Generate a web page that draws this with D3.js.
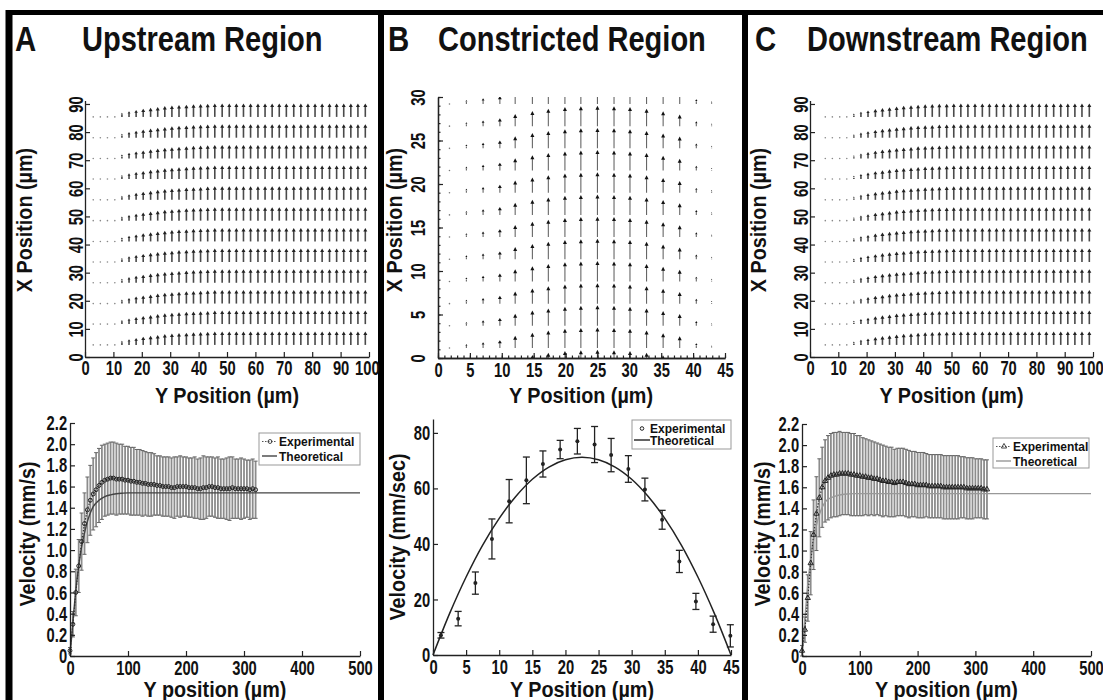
<!DOCTYPE html>
<html><head><meta charset="utf-8">
<script src="https://cdn.jsdelivr.net/npm/d3@7"></script>
<style>
body{margin:0;background:#fff;}
text{font-family:"Liberation Sans",Arial,Helvetica,sans-serif;font-weight:bold;fill:#111;}
</style></head><body><svg id="c" width="1103" height="700"></svg>
<script>
// ---------------- DATA ----------------
const panelLetters = ["A", "B", "C"];
const panelTitles = ["Upstream Region", "Constricted Region", "Downstream Region"];

// Quiver grids (A & C): row positions (X position, µm) and column positions (Y position, µm)
const quiverRowsAC = [4.3, 11.7, 19.0, 26.4, 33.8, 41.1, 48.5, 55.9, 63.3, 70.6, 78.0, 85.4];
const quiverColsAC = [2.9, 5.4, 7.9, 10.5, 13.0, 15.5, 18.0, 20.5, 23.1, 25.6, 28.1, 30.6, 33.1, 35.7, 38.2,
  40.7, 43.2, 45.7, 48.3, 50.8, 53.3, 55.8, 58.3, 60.9, 63.4, 65.9, 68.4, 70.9, 73.5, 76.0, 78.5, 81.0,
  83.5, 86.1, 88.6, 91.1, 93.6, 96.1, 98.7];
// relative arrow magnitude per column
const quiverMagA = [0.06, 0.08, 0.1, 0.14, 0.3, 0.42, 0.52, 0.6, 0.68, 0.74, 0.8, 0.84, 0.88, 0.91, 0.94, 0.96, 0.98,
  1, 1, 1, 1, 1, 1, 1, 1, 1, 1, 1, 1, 1, 1, 1, 1, 1, 1, 1, 1, 1, 1];
const quiverMagC = [0, 0.04, 0.06, 0.08, 0.12, 0.25, 0.38, 0.48, 0.58, 0.66, 0.72, 0.78, 0.82, 0.86, 0.9, 0.93, 0.95, 0.97, 0.98,
  1, 1, 1, 1, 1, 1, 1, 1, 1, 1, 1, 1, 1, 1, 1, 1, 1, 1, 1, 1];
const quiverFullLenAC = 4.8; // µm

// Quiver grid (B)
const quiverRowsB = [-1.4, 1.15, 3.7, 6.25, 8.8, 11.35, 13.9, 16.45, 19.0, 21.55, 24.1, 26.65, 29.2];
const quiverColsB = [1.8, 4.45, 7.07, 9.7, 12.1, 14.8, 17.3, 19.9, 22.4, 25.0, 27.6, 30.1, 32.7, 35.3, 37.9, 40.5, 42.9];
const quiverLenB = [0.12, 0.45, 0.65, 0.9, 1.4, 1.75, 2.0, 2.2, 2.3, 2.35, 2.3, 2.2, 2.0, 1.7, 1.35, 0.55, 0.3];

// Velocity profiles A & C (Y position µm, mean mm/s, sd mm/s)
const expX = [0,5,10,15,20,25,30,35,40,45, 50,55,60,65,70,75,80,85,90,95, 100,105,110,115,120,125,130,135,140,145,
  150,155,160,165,170,175,180,185,190,195, 200,205,210,215,220,225,230,235,240,245, 250,255,260,265,270,275,280,285,290,295,
  300,305,310,315,320];
const expA_mean = [0.05,0.3,0.6,0.85,1.08,1.25,1.38,1.47,1.53,1.57, 1.61,1.64,1.66,1.67,1.68,1.68,1.67,1.67,1.67,1.66,
  1.66,1.65,1.65,1.64,1.64,1.63,1.63,1.62,1.62,1.62, 1.61,1.61,1.6,1.6,1.6,1.59,1.59,1.6,1.6,1.6,
  1.6,1.59,1.59,1.59,1.58,1.58,1.59,1.59,1.6,1.6, 1.59,1.59,1.58,1.58,1.58,1.58,1.59,1.58,1.58,1.58,
  1.58,1.58,1.57,1.58,1.57];
const expA_sd = [0.03,0.12,0.22,0.25,0.27,0.29,0.31,0.33,0.34,0.35, 0.35,0.35,0.34,0.34,0.34,0.34,0.34,0.33,0.33,0.32,
  0.32,0.32,0.32,0.31,0.31,0.31,0.3,0.3,0.3,0.29, 0.28,0.28,0.28,0.28,0.28,0.28,0.29,0.28,0.29,0.28,
  0.28,0.28,0.28,0.29,0.28,0.29,0.3,0.29,0.28,0.28, 0.28,0.29,0.28,0.28,0.29,0.3,0.29,0.28,0.28,0.29,
  0.28,0.27,0.28,0.28,0.27];
const expC_mean = [0.05,0.25,0.55,0.88,1.15,1.35,1.5,1.6,1.66,1.69, 1.71,1.72,1.72,1.73,1.73,1.73,1.73,1.72,1.72,1.71,
  1.71,1.7,1.7,1.69,1.69,1.68,1.68,1.67,1.66,1.66, 1.65,1.65,1.64,1.65,1.65,1.65,1.64,1.63,1.63,1.63,
  1.62,1.62,1.62,1.62,1.61,1.61,1.61,1.61,1.61,1.6, 1.6,1.6,1.6,1.6,1.6,1.6,1.6,1.59,1.59,1.59,
  1.59,1.59,1.59,1.58,1.58];
const expC_sd = [0.05,0.12,0.22,0.3,0.33,0.35,0.37,0.38,0.39,0.4, 0.4,0.4,0.4,0.4,0.39,0.39,0.39,0.39,0.39,0.38,
  0.38,0.37,0.36,0.36,0.35,0.35,0.34,0.34,0.34,0.33, 0.33,0.33,0.32,0.32,0.32,0.32,0.32,0.32,0.31,0.31,
  0.31,0.31,0.31,0.3,0.3,0.3,0.3,0.3,0.3,0.3, 0.3,0.3,0.3,0.3,0.3,0.29,0.29,0.29,0.29,0.29,
  0.28,0.28,0.28,0.28,0.28];
const theoX = [0,5,10,15,20,25,30,35,40,50,60,70,80,90,100,120,500];
const theoA_y = [0,0.32,0.62,0.85,1.03,1.16,1.27,1.35,1.41,1.47,1.505,1.522,1.532,1.537,1.54,1.54,1.54];
const theoC_y = [0,0.35,0.68,0.92,1.1,1.24,1.34,1.41,1.46,1.5,1.52,1.532,1.537,1.54,1.54,1.54,1.54];

// Velocity profile B (Y position µm, mm/sec)
const expB_x = [1.2,3.8,6.4,8.9,11.5,14.1,16.6,19.2,21.8,24.4,26.9,29.5,32.0,34.6,37.2,39.7,42.3,44.9];
const expB_y = [7.1,13.1,25.9,41.8,55.4,62.9,68.8,74.0,77.0,75.8,72.0,67.0,59.6,48.7,33.7,19.3,11.1,6.9];
const expB_err = [1.0,2.6,4.0,7.2,7.8,8.4,4.7,3.3,4.6,6.5,6.0,4.8,4.1,3.4,4.0,2.9,2.9,4.0];
const theoB_x = [0,2.5,5,7.5,10,12.5,15,17.5,20,22.5,25,27.5,30,32.5,35,37.5,40,42.5,45];
const theoB_y = [0,14.9,28.1,39.6,49.2,57.1,63.3,67.7,70.3,71.2,70.3,67.7,63.3,57.1,49.2,39.6,28.1,14.9,0];

// Ticks
const qTicksAC_x = [0,10,20,30,40,50,60,70,80,90,100];
const qTicksAC_y = [0,10,20,30,40,50,60,70,80,90];
const qTicksB_x = [0,5,10,15,20,25,30,35,40,45];
const qTicksB_y = [0,5,10,15,20,25,30];
const velTicks = [0,0.2,0.4,0.6,0.8,1.0,1.2,1.4,1.6,1.8,2.0,2.2];
const velTickLabels = ["0","0.2","0.4","0.6","0.8","1.0","1.2","1.4","1.6","1.8","2.0","2.2"];
const posTicks = [0,100,200,300,400,500];
const velTicksB = [0,20,40,60,80];
const posTicksB = [0,5,10,15,20,25,30,35,40,45];

const quiverXLabel = "Y Position (µm)";
const quiverYLabel = "X Position (µm)";
const profXLabels = ["Y position (µm)", "Y Position (µm)", "Y position (µm)"];
const profYLabels = ["Velocity (mm/s)", "Velocity (mm/sec)", "Velocity (mm/s)"];
const legendLabels = ["Experimental", "Theoretical"];

// ---------------- DRAW ----------------
const svg = d3.select("#c");
const TICKSX = 0.72, TICKFS = 20.5;
const LABFS = 22, LABSX = 0.9;

function txt(parent, x, y, s, o) {
  const g = parent.append("g").attr("transform", `translate(${x},${y}) rotate(${o.rot || 0}) scale(${o.sx || 1},1)`);
  g.append("text").attr("text-anchor", o.anchor || "start").attr("dy", o.dy || 0)
    .attr("font-size", o.size).text(s);
  return g;
}
function styleAxis(g) {
  g.select(".domain").attr("stroke", "#222").attr("stroke-width", 1.3);
  g.selectAll(".tick line").attr("stroke", "#222").attr("stroke-width", 1.2);
  g.selectAll("text").attr("font-size", TICKFS).attr("fill", "#111").attr("font-family", null);
}
function bottomAxis(g, scale, vals, fmt, y, pad) {
  const a = g.append("g").attr("transform", `translate(0,${y})`)
    .call(d3.axisBottom(scale).tickValues(vals).tickFormat(fmt).tickSizeInner(-5).tickSizeOuter(0).tickPadding(pad));
  styleAxis(a);
  a.selectAll("text").attr("transform", `scale(${TICKSX},1)`);
  return a;
}
function leftAxis(g, scale, vals, fmt, x, pad) {
  const a = g.append("g").attr("transform", `translate(${x},0)`)
    .call(d3.axisLeft(scale).tickValues(vals).tickFormat(fmt).tickSizeInner(-5).tickSizeOuter(0).tickPadding(pad));
  styleAxis(a);
  a.selectAll("text").attr("transform", `scale(${TICKSX},1)`);
  return a;
}
function leftAxisRot(g, scale, vals, x, off) {
  const a = g.append("g").attr("transform", `translate(${x},0)`)
    .call(d3.axisLeft(scale).tickValues(vals).tickSizeInner(-5).tickSizeOuter(0));
  styleAxis(a);
  a.selectAll("text").attr("x", 0).attr("dy", "0.36em").attr("text-anchor", "middle")
    .attr("transform", `translate(${off},0) rotate(-90) scale(${TICKSX},1)`);
  return a;
}

// Frame
svg.append("line").attr("x1", 6).attr("x2", 1103).attr("y1", 12.5).attr("y2", 12.5).attr("stroke", "#000").attr("stroke-width", 5);
svg.append("line").attr("x1", 9).attr("x2", 9).attr("y1", 10).attr("y2", 700).attr("stroke", "#000").attr("stroke-width", 7);
svg.append("line").attr("x1", 381).attr("x2", 381).attr("y1", 10).attr("y2", 700).attr("stroke", "#000").attr("stroke-width", 6);
svg.append("line").attr("x1", 745).attr("x2", 745).attr("y1", 10).attr("y2", 700).attr("stroke", "#000").attr("stroke-width", 6);

// Titles
const letterX = [15, 388, 755], titleX = [82, 438, 807];
panelLetters.forEach((l, i) => {
  txt(svg, letterX[i], 51, l, { size: 35, sx: 0.84 });
  txt(svg, titleX[i], 51, panelTitles[i], { size: 35, sx: 0.83 });
});

// ---------- Quiver A & C ----------
function quiverAC(x0, x1, yAxisLabelX, mags) {
  const g = svg.append("g");
  const x = d3.scaleLinear().domain([0, 100]).range([x0, x1]);
  const y = d3.scaleLinear().domain([0, 91.2]).range([357, 100.6]);
  const arrows = [];
  quiverRowsAC.forEach(r => quiverColsAC.forEach((c, j) => arrows.push({ r, c, m: mags[j] })));
  arrows.forEach(d => {
    if (d.m <= 0) return;
    const L = d.m * quiverFullLenAC;
    const px = x(d.c), py0 = y(d.r), py1 = y(d.r + L);
    if (py0 - py1 < 2.5) {
      g.append("circle").attr("cx", px).attr("cy", py0).attr("r", 0.8).attr("fill", "#888");
      return;
    }
    g.append("line").attr("x1", px).attr("x2", px).attr("y1", py0).attr("y2", py1 + 2)
      .attr("stroke", "#4a4a4a").attr("stroke-width", 1.6);
    const hw = Math.min(2, (py0 - py1) * 0.25), hh = Math.min(3.5, (py0 - py1) * 0.4);
    g.append("path").attr("d", `M${px},${py1} L${px - hw},${py1 + hh} L${px + hw},${py1 + hh} Z`).attr("fill", "#222");
  });
  const ax = bottomAxis(g, x, qTicksAC_x, d3.format("d"), 357, 3);
  ax.selectAll("text").filter(d => d === 100).attr("x", -3);
  leftAxisRot(g, y, qTicksAC_y, x0, -9);
  txt(g, (x0 + x1) / 2, 403, quiverXLabel, { size: LABFS, sx: LABSX, anchor: "middle" });
  txt(g, yAxisLabelX, 220, quiverYLabel, { size: LABFS, sx: LABSX, anchor: "middle", rot: -90, dy: "0.35em" });
}
quiverAC(85, 369, 24, quiverMagA);
quiverAC(810, 1093, 758, quiverMagC);

// ---------- Quiver B ----------
(function () {
  const g = svg.append("g");
  const x = d3.scaleLinear().domain([0, 45]).range([438, 725]);
  const y = d3.scaleLinear().domain([0, 30]).range([358, 97]);
  svg.append("defs").append("clipPath").attr("id", "clipB").append("rect")
    .attr("x", 438).attr("y", 97).attr("width", 287).attr("height", 261);
  const ga = g.append("g").attr("clip-path", "url(#clipB)");
  quiverRowsB.forEach(r => quiverColsB.forEach((c, j) => {
    const L = quiverLenB[j];
    const px = x(c), py0 = y(r), py1 = y(r + L);
    if (py0 - py1 < 2.5) {
      ga.append("circle").attr("cx", px).attr("cy", py0).attr("r", 0.8).attr("fill", "#777");
      return;
    }
    ga.append("line").attr("x1", px).attr("x2", px).attr("y1", py0).attr("y2", py1 + 2)
      .attr("stroke", "#666").attr("stroke-width", 1.1);
    const hw = Math.min(2, (py0 - py1) * 0.25), hh = Math.min(4, (py0 - py1) * 0.4);
    ga.append("path").attr("d", `M${px},${py1} L${px - hw},${py1 + hh} L${px + hw},${py1 + hh} Z`).attr("fill", "#111");
  }));
  const mx = g.append("g").attr("transform", "translate(0,358)")
    .call(d3.axisBottom(x).ticks(45).tickFormat("").tickSizeInner(-2.5).tickSizeOuter(0));
  styleAxis(mx);
  const my = g.append("g").attr("transform", "translate(438,0)")
    .call(d3.axisLeft(y).ticks(30).tickFormat("").tickSizeInner(-2.5).tickSizeOuter(0));
  styleAxis(my);
  bottomAxis(g, x, qTicksB_x, d3.format("d"), 358, 4);
  leftAxisRot(g, y, qTicksB_y, 438, -20);
  txt(g, 581, 403, quiverXLabel, { size: LABFS, sx: LABSX, anchor: "middle" });
  txt(g, 394, 220, quiverYLabel, { size: LABFS, sx: LABSX, anchor: "middle", rot: -90, dy: "0.35em" });
})();

// ---------- Velocity profiles A & C ----------
function profileAC(x0, x1, yTop, labelX, mean, sd, theoY, markerType, theoColor, leg, idx) {
  const g = svg.append("g");
  const x = d3.scaleLinear().domain([0, 500]).range([x0, x1]);
  const y = d3.scaleLinear().domain([0, 2.2]).range([656, yTop]);
  const pts = expX.map((v, i) => ({ x: v, m: mean[i], s: sd[i] }));
  const eb = g.append("g").attr("stroke", "#8c8c8c").attr("stroke-width", 1.8);
  pts.forEach(d => {
    const px = x(d.x);
    eb.append("line").attr("x1", px).attr("x2", px).attr("y1", y(d.m - d.s)).attr("y2", y(d.m + d.s));
    eb.append("line").attr("x1", px - 2).attr("x2", px + 2).attr("y1", y(d.m - d.s)).attr("y2", y(d.m - d.s)).attr("stroke", "#666").attr("stroke-width", 1);
    eb.append("line").attr("x1", px - 2).attr("x2", px + 2).attr("y1", y(d.m + d.s)).attr("y2", y(d.m + d.s)).attr("stroke", "#666").attr("stroke-width", 1);
  });
  const tl = d3.line().x((d, i) => x(theoX[i])).y(d => y(d)).curve(d3.curveMonotoneX);
  g.append("path").attr("d", tl(theoY)).attr("fill", "none").attr("stroke", theoColor).attr("stroke-width", 1.4);
  const ml = d3.line().x(d => x(d.x)).y(d => y(d.m));
  g.append("path").attr("d", ml(pts)).attr("fill", "none").attr("stroke", "#333").attr("stroke-width", 1.2).attr("stroke-dasharray", "1.5,1.5");
  const sym = d3.symbol().type(markerType).size(12);
  g.selectAll(".mk").data(pts).enter().append("path")
    .attr("transform", d => `translate(${x(d.x)},${y(d.m)})`).attr("d", sym())
    .attr("fill", "none").attr("stroke", "#222").attr("stroke-width", 1);
  bottomAxis(g, x, posTicks, d3.format("d"), 656, 4);
  leftAxis(g, y, velTicks, (d, i) => velTickLabels[i], x0, 4);
  txt(g, (x0 + x1) / 2, 697, profXLabels[idx], { size: LABFS, sx: LABSX, anchor: "middle" });
  txt(g, labelX, 534, profYLabels[idx], { size: LABFS, sx: LABSX, anchor: "middle", rot: -90, dy: "0.35em" });
  const lg = g.append("g");
  lg.append("rect").attr("x", leg.x).attr("y", leg.y).attr("width", leg.w).attr("height", leg.h)
    .attr("fill", "#fff").attr("stroke", "#999").attr("stroke-width", 1);
  const r1 = leg.y + 8.5, r2 = leg.y + 23;
  lg.append("line").attr("x1", leg.x + 3).attr("x2", leg.x + 18).attr("y1", r1).attr("y2", r1)
    .attr("stroke", "#555").attr("stroke-dasharray", "1.5,1.5");
  lg.append("path").attr("transform", `translate(${leg.x + 11},${r1})`).attr("d", sym())
    .attr("fill", "none").attr("stroke", "#333").attr("stroke-width", 0.9);
  lg.append("line").attr("x1", leg.x + 3).attr("x2", leg.x + 18).attr("y1", r2).attr("y2", r2)
    .attr("stroke", theoColor).attr("stroke-width", 1.4);
  txt(lg, leg.x + 20, r1 + 4.5, legendLabels[0], { size: 12 });
  txt(lg, leg.x + 20, r2 + 4.5, legendLabels[1], { size: 12 });
}
profileAC(70, 360, 423, 27, expA_mean, expA_sd, theoA_y, d3.symbolCircle, "#444",
  { x: 259, y: 433, w: 101, h: 32 }, 0);
profileAC(802, 1091, 424, 762, expC_mean, expC_sd, theoC_y, d3.symbolTriangle, "#999",
  { x: 993, y: 438, w: 96, h: 30 }, 2);

// ---------- Velocity profile B ----------
(function () {
  const g = svg.append("g");
  const x = d3.scaleLinear().domain([0, 45]).range([433, 731]);
  const y = d3.scaleLinear().domain([0, 85]).range([655, 419]);
  const tl = d3.line().x((d, i) => x(theoB_x[i])).y(d => y(d)).curve(d3.curveCatmullRom);
  g.append("path").attr("d", tl(theoB_y)).attr("fill", "none").attr("stroke", "#222").attr("stroke-width", 1.5);
  const eb = g.append("g").attr("stroke", "#222").attr("stroke-width", 1.3);
  expB_x.forEach((v, i) => {
    const px = x(v), lo = y(expB_y[i] - expB_err[i]), hi = y(expB_y[i] + expB_err[i]);
    eb.append("line").attr("x1", px).attr("x2", px).attr("y1", lo).attr("y2", hi);
    eb.append("line").attr("x1", px - 3.5).attr("x2", px + 3.5).attr("y1", lo).attr("y2", lo);
    eb.append("line").attr("x1", px - 3.5).attr("x2", px + 3.5).attr("y1", hi).attr("y2", hi);
  });
  g.selectAll(".pb").data(expB_x).enter().append("circle")
    .attr("cx", d => x(d)).attr("cy", (d, i) => y(expB_y[i])).attr("r", 2).attr("fill", "#222");
  bottomAxis(g, x, posTicksB, d3.format("d"), 655, 4);
  leftAxis(g, y, velTicksB, d3.format("d"), 433, 4);
  txt(g, 582, 697, profXLabels[1], { size: LABFS, sx: LABSX, anchor: "middle" });
  txt(g, 397, 537, profYLabels[1], { size: LABFS, sx: LABSX, anchor: "middle", rot: -90, dy: "0.35em" });
  const lg = g.append("g");
  lg.append("rect").attr("x", 632).attr("y", 420).attr("width", 99).attr("height", 29)
    .attr("fill", "#fff").attr("stroke", "#999");
  lg.append("circle").attr("cx", 642).attr("cy", 428.5).attr("r", 1.8).attr("fill", "none").attr("stroke", "#222");
  lg.append("line").attr("x1", 634).attr("x2", 650).attr("y1", 440).attr("y2", 440).attr("stroke", "#222").attr("stroke-width", 1.4);
  txt(lg, 650, 433, legendLabels[0], { size: 12 });
  txt(lg, 650, 445, legendLabels[1], { size: 12 });
})();
</script></body></html>
